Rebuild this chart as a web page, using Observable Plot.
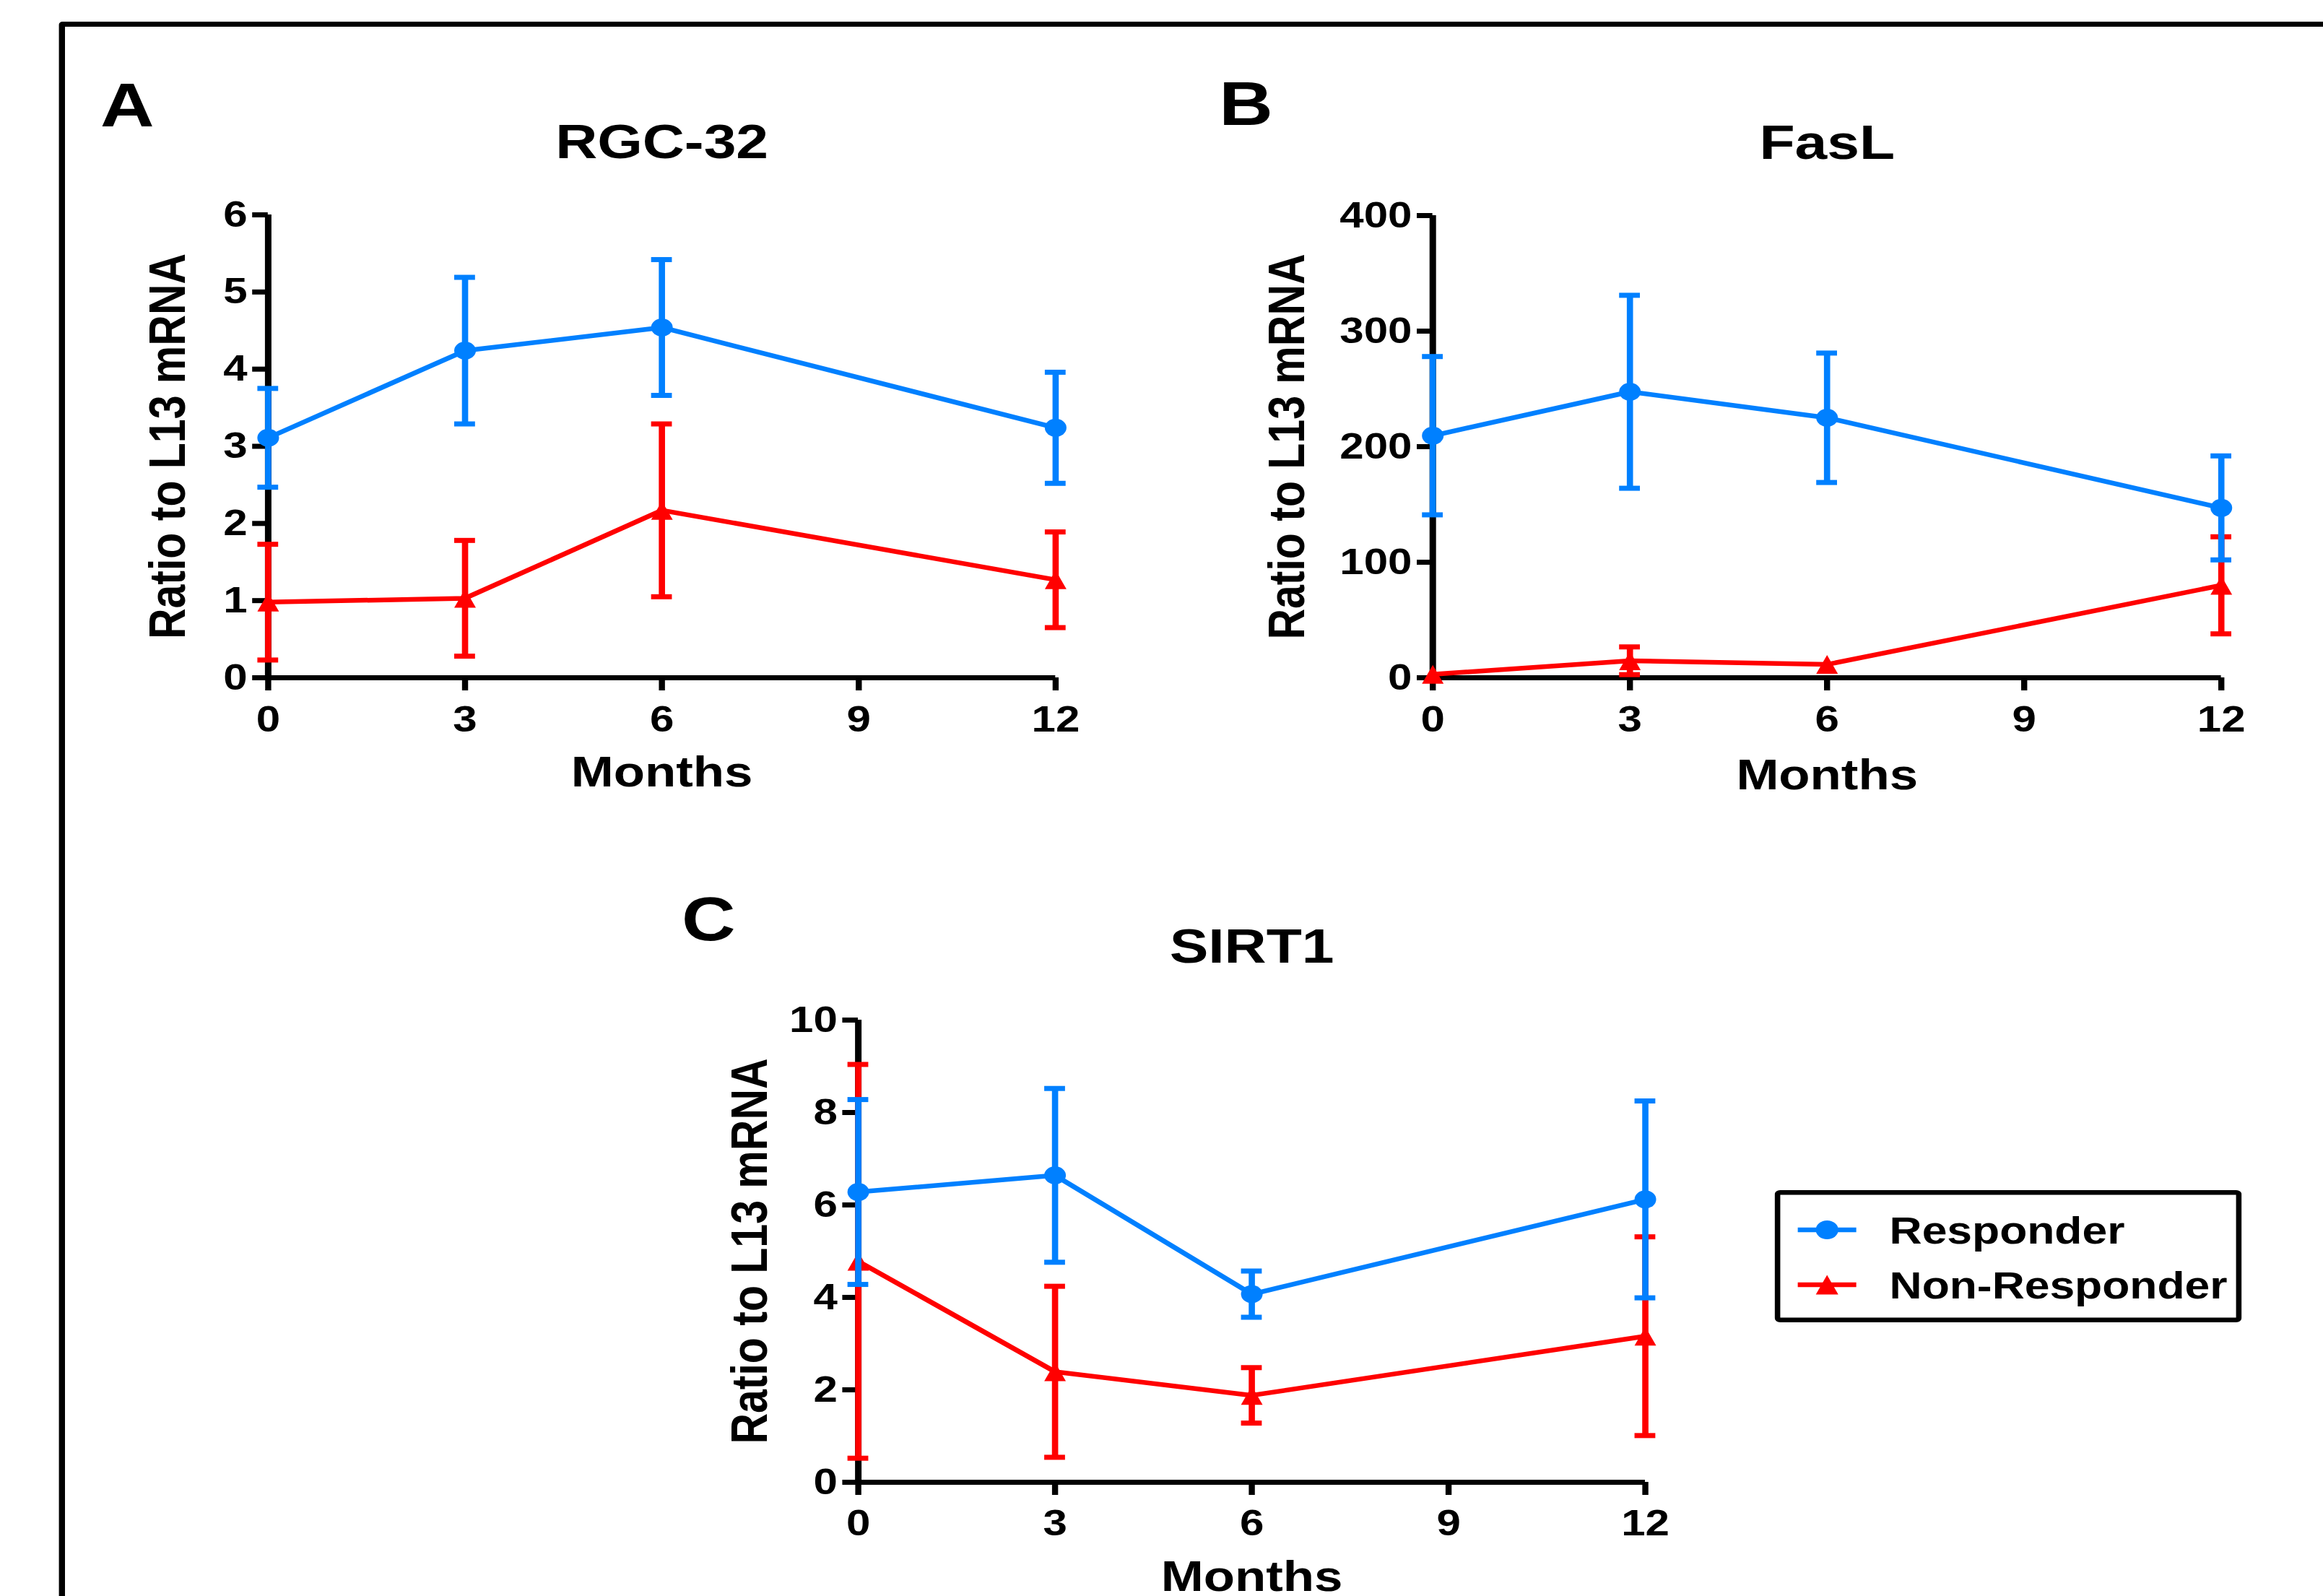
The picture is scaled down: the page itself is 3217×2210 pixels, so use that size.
<!DOCTYPE html>
<html>
<head>
<meta charset="utf-8">
<script src="https://cdn.jsdelivr.net/npm/d3@7"></script>
<script src="https://cdn.jsdelivr.net/npm/@observablehq/plot@0.6"></script>
<style>
  html, body { margin: 0; padding: 0; background: #fff; }
  body { width: 3217px; height: 2210px; overflow: hidden; position: relative; }
  #stage { position: absolute; left: 0; top: 0; width: 2680.83px; height: 2210px;
           transform: scaleX(1.2); transform-origin: 0 0; }
  #frame { position: absolute; left: 67.5px; top: 30px; width: 3000px; height: 3000px;
           border: 7px solid #000; border-radius: 4px; box-sizing: border-box; }
  .panel { position: absolute; }
  .panel svg { overflow: visible; }
</style>
</head>
<body>
<div id="stage"><div id="frame"></div></div>
<script>
// ---------------- data ----------------
const months = [0, 3, 6, 12];
const xTicks = [0, 3, 6, 9, 12];
const seriesNames = ["Responder", "Non-Responder"];
const seriesColors = ["#0080ff", "#ff0000"];

// Panel A: RGC-32 (mean, SEM)
const rgcResponder = [3.11, 4.24, 4.54, 3.24];
const rgcResponderSem = [0.64, 0.95, 0.88, 0.72];
const rgcNonResponder = [0.98, 1.03, 2.17, 1.27];
const rgcNonResponderSem = [0.75, 0.75, 1.12, 0.62];
const rgcTicks = [0, 1, 2, 3, 4, 5, 6];

// Panel B: FasL (null = error bar hidden behind the symbol)
const faslResponder = [209.5, 247.5, 225, 147];
const faslResponderSem = [68.5, 83.5, 56, 45];
const faslNonResponder = [3, 14.7, 11.5, 80];
const faslNonResponderSem = [null, 12, null, 42];
const faslTicks = [0, 100, 200, 300, 400];

// Panel C: SIRT1
const sirtResponder = [6.28, 6.64, 4.07, 6.12];
const sirtResponderSem = [2.0, 1.88, 0.5, 2.13];
const sirtNonResponder = [4.78, 2.39, 1.88, 3.16];
const sirtNonResponderSem = [4.26, 1.85, 0.6, 2.15];
const sirtTicks = [0, 2, 4, 6, 8, 10];

const xLabel = "Months";
const yLabel = "Ratio to L13 mRNA";

// ---------------- helpers ----------------
const FONT = "'Liberation Sans', Arial, Helvetica, sans-serif";

// triangle centred on its bounding box (GraphPad style)
const triangleUp = {
  draw(context, size) {
    const r = Math.sqrt(size / Math.PI);
    context.moveTo(0, -r);
    context.lineTo(r * 0.96, r);
    context.lineTo(-r * 0.96, r);
    context.closePath();
  }
};
const seriesSymbols = ["circle", triangleUp];

function makeRows(resp, respSem, non, nonSem) {
  const rows = [];
  months.forEach((m, i) => {
    rows.push({month: m, series: seriesNames[0], value: resp[i], sem: respSem[i]});
    rows.push({month: m, series: seriesNames[1], value: non[i], sem: nonSem[i]});
  });
  return rows;
}

function seriesMarks(rows, s) {
  const f = d => d.series === s;
  const fe = d => d.series === s && d.sem != null;
  const r = s === seriesNames[0] ? 12.5 : 13;
  const lo = d => d.value - d.sem, hi = d => d.value + d.sem;
  return [
    Plot.line(rows, {filter: f, x: "month", y: "value", stroke: "series", strokeWidth: 6.5}),
    Plot.ruleX(rows, {filter: fe, x: "month", y1: lo, y2: hi, stroke: "series", strokeWidth: 7.2}),
    Plot.ruleY(rows, {filter: fe, x1: "month", x2: "month", y: hi, insetLeft: -12, insetRight: -12, stroke: "series", strokeWidth: 7}),
    Plot.ruleY(rows, {filter: fe, x1: "month", x2: "month", y: lo, insetLeft: -12, insetRight: -12, stroke: "series", strokeWidth: 7}),
    Plot.dot(rows, {filter: f, x: "month", y: "value", fill: "series", symbol: "series", r, stroke: "none"})
  ];
}

function panel({letter, title, rows, yDomain, yTicks, frame, letterPos, yLabelDx, xLabelDy}) {
  const mL = 260, mR = 40, mT = 200, mB = 180;
  const fw = frame.x1 - frame.x0, fh = frame.y0 - frame.yTop;
  const chart = Plot.plot({
    width: fw + mL + mR,
    height: fh + mT + mB,
    marginLeft: mL, marginRight: mR, marginTop: mT, marginBottom: mB,
    style: {fontFamily: FONT, fontWeight: "bold", background: "transparent", overflow: "visible", color: "#000"},
    x: {domain: [0, 12]},
    y: {domain: yDomain},
    color: {domain: seriesNames, range: seriesColors},
    symbol: {domain: seriesNames, range: seriesSymbols},
    marks: [
      Plot.ruleX([0], {strokeWidth: 7.5}),
      Plot.ruleY([0], {strokeWidth: 7}),
      Plot.axisX({ticks: xTicks, tickFormat: d => String(d), tickSize: 18, tickPadding: 20.5, strokeWidth: 7,
        fontSize: 50, fontWeight: "bold", label: null, fill: "#000"}),
      Plot.axisY({ticks: yTicks, tickFormat: d => String(d), tickSize: 18, tickPadding: 6, strokeWidth: 7,
        fontSize: 50, fontWeight: "bold", label: null, fill: "#000"}),
      ...seriesMarks(rows, seriesNames[1]),
      ...seriesMarks(rows, seriesNames[0]),
      Plot.text([title], {text: d => d, frameAnchor: "top", dy: -79, textAnchor: "middle", lineAnchor: "bottom",
        fontSize: 67, fontWeight: "bold", fill: "#000"}),
      Plot.text([letter], {text: d => d, frameAnchor: "top-left", dx: letterPos[0] - frame.x0, dy: letterPos[1] - frame.yTop,
        textAnchor: "start", lineAnchor: "bottom", fontSize: 86, fontWeight: "bold", fill: "#000"}),
      Plot.text([xLabel], {text: d => d, frameAnchor: "bottom", dy: xLabelDy, textAnchor: "middle", lineAnchor: "bottom",
        fontSize: 59, fontWeight: "bold", fill: "#000"}),
      Plot.text([yLabel], {text: d => d, frameAnchor: "left", rotate: -90, dx: yLabelDx, textAnchor: "middle", lineAnchor: "bottom",
        fontSize: 59, fontWeight: "bold", fill: "#000"})
    ]
  });
  const div = document.createElement("div");
  div.className = "panel";
  div.style.left = (frame.x0 - mL) + "px";
  div.style.top = (frame.yTop - mT) + "px";
  div.appendChild(chart);
  document.getElementById("stage").appendChild(div);
}

// ---------------- panels ----------------
panel({
  letter: "A", title: "RGC-32",
  rows: makeRows(rgcResponder, rgcResponderSem, rgcNonResponder, rgcNonResponderSem),
  yDomain: [0, 6], yTicks: rgcTicks,
  frame: {x0: 308.75, x1: 1217.5, yTop: 296.5, y0: 937.5},
  letterPos: [115, 174], yLabelDx: -96.25, xLabelDy: 150.5
});
panel({
  letter: "B", title: "FasL",
  rows: makeRows(faslResponder, faslResponderSem, faslNonResponder, faslNonResponderSem),
  yDomain: [0, 400], yTicks: faslTicks,
  frame: {x0: 1653.3, x1: 2563.3, yTop: 298, y0: 938},
  letterPos: [1406.7, 172], yLabelDx: -148.8, xLabelDy: 154
});
panel({
  letter: "C", title: "SIRT1",
  rows: makeRows(sirtResponder, sirtResponderSem, sirtNonResponder, sirtNonResponderSem),
  yDomain: [0, 10], yTicks: sirtTicks,
  frame: {x0: 989.6, x1: 1897.9, yTop: 1412, y0: 2052},
  letterPos: [785.8, 1302], yLabelDx: -105.4, xLabelDy: 151
});

// ---------------- legend ----------------
(function legend() {
  const W = 539, H = 183;
  const svg = d3.create("svg").attr("width", W).attr("height", H)
    .style("position", "absolute").style("left", "2047.5px").style("top", "1648px")
    .style("font-family", FONT).style("font-weight", "bold");
  svg.append("rect").attr("x", 3.25).attr("y", 3.25).attr("width", W - 6.5).attr("height", H - 6.5)
    .attr("rx", 3).attr("fill", "#fff").attr("stroke", "#000").attr("stroke-width", 6.5);
  const rowsY = [55, 131];
  const legendSymbols = [d3.symbolCircle, triangleUp];
  const legendR = [13, 13.5];
  seriesNames.forEach((name, i) => {
    const g = svg.append("g").attr("transform", `translate(0,${rowsY[i]})`);
    g.append("line").attr("x1", 26.7).attr("x2", 94.2).attr("y1", 0).attr("y2", 0)
      .attr("stroke", seriesColors[i]).attr("stroke-width", 6.5);
    g.append("path").attr("transform", "translate(60.5,0)")
      .attr("d", d3.symbol(legendSymbols[i], Math.PI * legendR[i] * legendR[i])())
      .attr("fill", seriesColors[i]);
    g.append("text").attr("x", 132.5).attr("y", 0).attr("dy", "0.358em")
      .attr("font-size", 52).attr("fill", "#000").text(name);
  });
  document.getElementById("stage").appendChild(svg.node());
})();
</script>
</body>
</html>
